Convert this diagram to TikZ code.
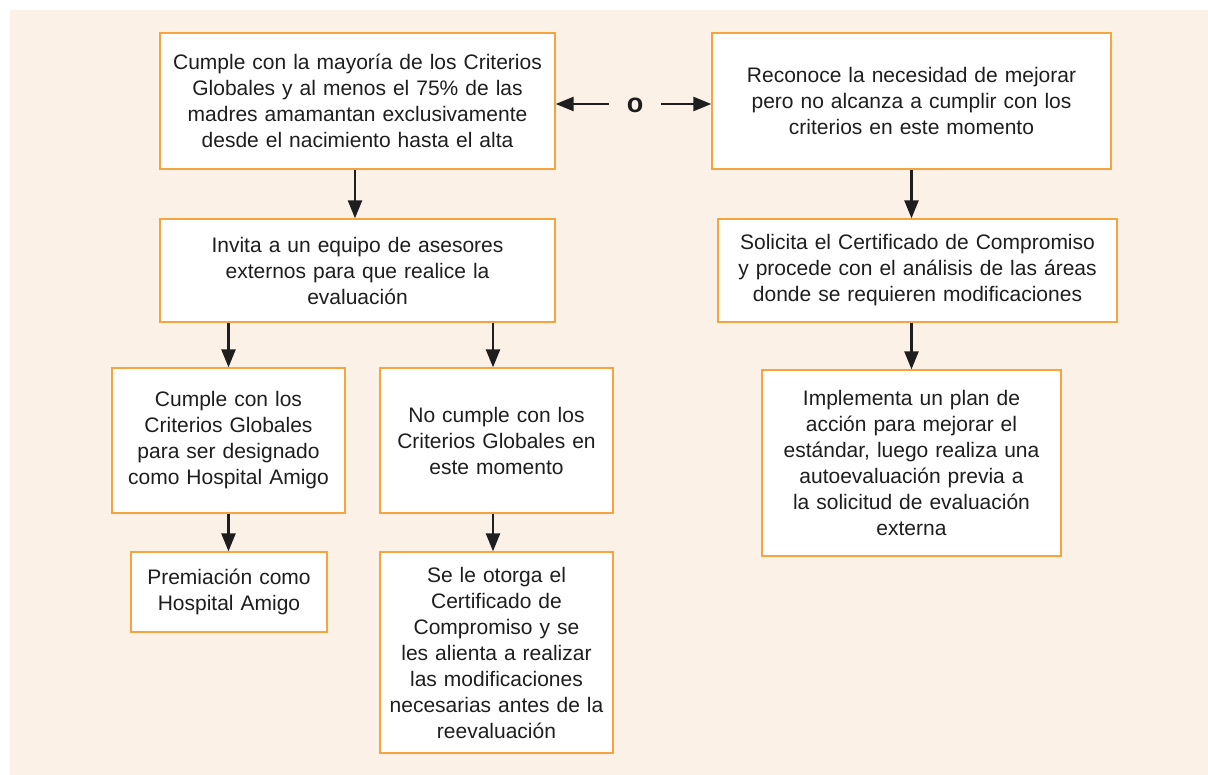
\documentclass[tikz,border=0pt]{standalone}
\usepackage{fontspec}
\setmainfont{Liberation Sans}
\usetikzlibrary{arrows.meta}
\definecolor{bgpeach}{RGB}{252,241,231}
\definecolor{boxorange}{RGB}{246,164,62}
\definecolor{txtdark}{RGB}{30,30,30}
\tikzset{
  flowbox/.style={draw=boxorange, line width=1.3pt, fill=white, align=center,
    inner sep=0pt, text=txtdark, font=\fontsize{21}{26}\selectfont},
  arr/.style={line width=2.4pt, draw=txtdark, -{Triangle[length=18pt,width=14pt]}},
}
\begin{document}
\begin{tikzpicture}[x=1pt,y=-1pt]
\useasboundingbox (0,0) rectangle (1208,775);
\fill[bgpeach] (10,10) rectangle (1208,775);

\node[flowbox, minimum width=395pt, minimum height=136pt, text width=385pt] (A) at (357.5,101)
  {Cumple con la mayoría de los Criterios\\Globales y al menos el 75\% de las\\madres amamantan exclusivamente\\desde el nacimiento hasta el alta};
\node[flowbox, minimum width=399pt, minimum height=136pt, text width=389pt] (B) at (911.5,101)
  {Reconoce la necesidad de mejorar\\pero no alcanza a cumplir con los\\criterios en este momento};
\node[flowbox, minimum width=395pt, minimum height=103pt, text width=385pt] (C) at (357.5,270.5)
  {Invita a un equipo de asesores\\externos para que realice la\\evaluación};
\node[flowbox, minimum width=399pt, minimum height=103pt, text width=389pt] (D) at (917.5,270.5)
  {Solicita el Certificado de Compromiso\\y procede con el análisis de las áreas\\donde se requieren modificaciones};
\node[flowbox, minimum width=233pt, minimum height=145pt, text width=225pt] (E) at (228.5,440.5)
  {Cumple con los\\Criterios Globales\\para ser designado\\como Hospital Amigo};
\node[flowbox, minimum width=233pt, minimum height=145pt, text width=225pt] (F) at (496.5,440.5)
  {No cumple con los\\Criterios Globales en\\este momento\\[20pt]};
\node[flowbox, minimum width=196pt, minimum height=80pt, text width=188pt] (H) at (229,592)
  {Premiación como\\Hospital Amigo};
\node[flowbox, minimum width=233pt, minimum height=201pt, text width=225pt] (G) at (496.5,652.5)
  {Se le otorga el\\Certificado de\\Compromiso y se\\les alienta a realizar\\las modificaciones\\necesarias antes de la\\reevaluación};
\node[flowbox, minimum width=299pt, minimum height=186pt, text width=291pt] (I) at (911.5,463)
  {Implementa un plan de\\acción para mejorar el\\estándar, luego realiza una\\autoevaluación previa a\\la solicitud de evaluación\\externa};

\node[minimum width=52pt, inner sep=0pt, text=txtdark, font=\fontsize{27}{30}\selectfont\bfseries] (o) at (635,105) {o};

\draw[arr] (o.west |- 0,104) -- (A.east |- 0,104);
\draw[arr] (o.east |- 0,104) -- (B.west |- 0,104);
\draw[arr] (A.south -| 355,0) -- (C.north -| 355,0);
\draw[arr] (B.south) -- (B.south |- D.north);
\draw[arr] (C.south -| E.north) -- (E.north);
\draw[arr] (C.south -| 493,0) -- (F.north -| 493,0);
\draw[arr] (E.south) -- (E.south |- H.north);
\draw[arr] (F.south -| 493,0) -- (G.north -| 493,0);
\draw[arr] (D.south -| I.north) -- (I.north);
\end{tikzpicture}
\end{document}
